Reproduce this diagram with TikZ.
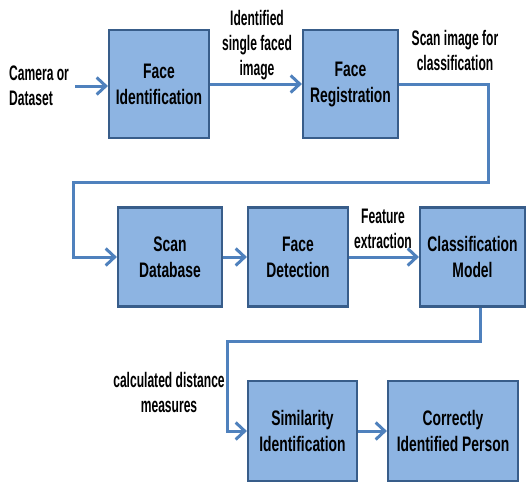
\documentclass[tikz,border=0pt]{standalone}
\usepackage{fontspec}
\setmainfont{Liberation Sans}[FakeStretch=0.66]
\newfontfamily\lblfont{Liberation Sans}[FakeStretch=0.575]
\usetikzlibrary{arrows.meta,positioning}
\definecolor{boxfill}{RGB}{141,180,226}
\definecolor{boxline}{RGB}{56,93,138}
\definecolor{flowline}{RGB}{79,129,189}
\tikzset{
	block/.style={draw=boxline, line width=2.2pt, fill=boxfill, align=center, inner sep=0pt,
		font=\bfseries\fontsize{21}{26}\selectfont},
	lbl/.style={align=center, inner sep=1pt, font=\lblfont\bfseries\fontsize{21}{25}\selectfont},
	flow/.style={draw=flowline, line width=3pt, -{Straight Barb[length=9pt,width=17pt]}},
}
\begin{document}
\begin{tikzpicture}[x=1pt,y=-1pt]
	\useasboundingbox (0,0) rectangle (527,485);
	% first row
	\node[block, minimum width=100pt, minimum height=108pt] (fid) at (159,84) {Face\\Identification};
	\node[block, minimum width=95pt, minimum height=108pt] (freg) at (350.5,84) {Face\\Registration};
	% second row
	\node[block, minimum width=104pt, minimum height=99pt] (sdb) at (170,257) {Scan\\Database};
	\node[block, minimum width=100pt, minimum height=99pt] (fdet) at (298,257) {Face\\Detection};
	\node[block, minimum width=105pt, minimum height=99pt] (cls) at (472.5,257) {Classification\\Model};
	% third row
	\node[block, minimum width=109pt, minimum height=100pt] (sim) at (302.5,431) {Similarity\\Identification};
	\node[block, minimum width=130pt, minimum height=100pt] (cor) at (453,431) {Correctly\\Identified Person};

	\node[lbl, align=left, anchor=west] (cam) at (8,86) {Camera or\\Dataset};
	\node[lbl] (idtxt) at (257,45) {Identified\\single faced\\image};
	\node[lbl] (scantxt) at (455,50) {Scan image for\\classification};
	\node[lbl] (feattxt) at (383,229) {Feature\\extraction};
	\node[lbl] (calctxt) at (169,392) {calculated distance\\measures};

	\coordinate (rt) at (488,182);
	\coordinate (lt) at (73,182);
	\coordinate (rb) at (480,341);
	\coordinate (lb) at (227,341);

	\draw[flow, shorten <=5pt] (cam.east) -- (cam.east -| fid.west);
	\draw[flow] (fid.east) -- (freg.west);
	\draw[flow] (freg.east) -| (rt) -- (lt) |- (sdb.west);
	\draw[flow] (sdb.east) -- (fdet.west);
	\draw[flow] (fdet.east) -- (cls.west);
	\draw[flow] (cls.south -| rb) -- (rb) -- (lb) |- (sim.west);
	\draw[flow] (sim.east) -- (cor.west);
\end{tikzpicture}
\end{document}
